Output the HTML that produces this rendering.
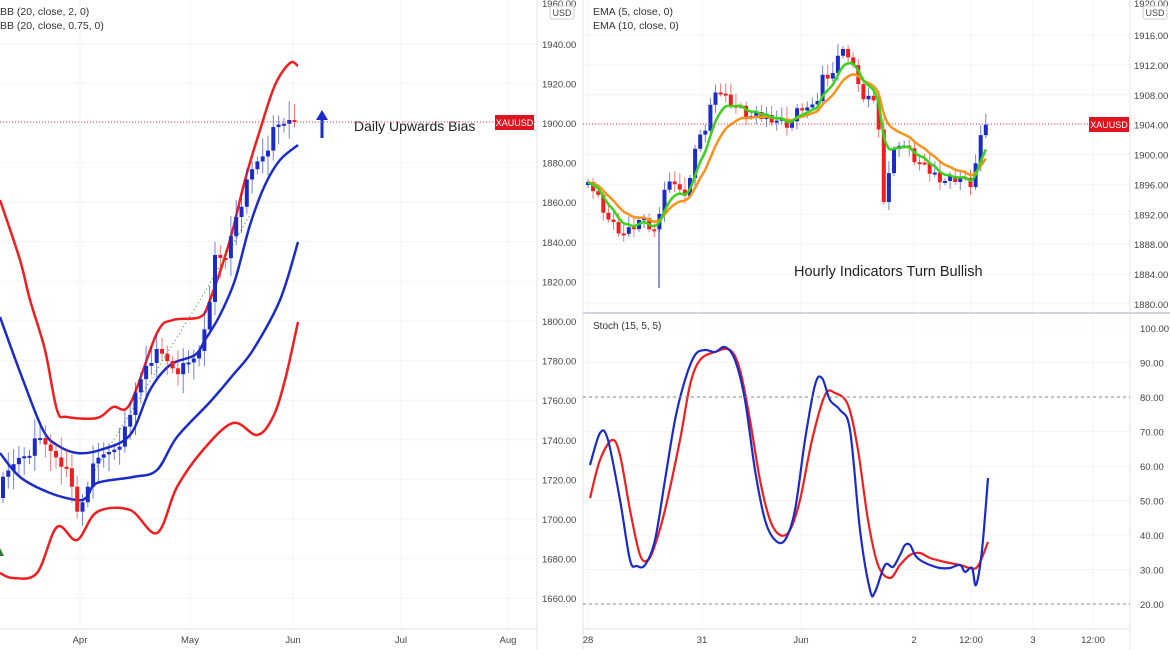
<!DOCTYPE html>
<html><head><meta charset="utf-8"><style>
html,body{margin:0;padding:0;background:#fff;}
svg{display:block;font-family:"Liberation Sans",sans-serif;}
</style></head><body>
<svg id="s" width="1170" height="650" viewBox="0 0 1170 650" xmlns="http://www.w3.org/2000/svg">
<rect width="1170" height="650" fill="#fff"/>
<g id="grid" stroke="#f3f4f8" stroke-width="1"></g>
<line x1="537" y1="0" x2="537" y2="650" stroke="#e0e3eb"/>
<line x1="583" y1="0" x2="583" y2="650" stroke="#e0e3eb"/>
<line x1="1130" y1="0" x2="1130" y2="650" stroke="#e0e3eb"/>
<line x1="0" y1="629" x2="537" y2="629" stroke="#e0e3eb"/>
<line x1="583" y1="629" x2="1130" y2="629" stroke="#e0e3eb"/>
<line x1="583" y1="313" x2="1170" y2="313" stroke="#d1d4dc" stroke-width="2"/>
<g id="lt" font-size="9.5" fill="#444"></g>
<g id="rt" font-size="9.5" fill="#444"></g>
<g id="draw"></g>
<text x="0" y="15" font-size="10.5" fill="#333">BB (20, close, 2, 0)</text>
<text x="0" y="29" font-size="10.5" fill="#333">BB (20, close, 0.75, 0)</text>
<text x="593" y="15" font-size="10.5" fill="#333">EMA (5, close, 0)</text>
<text x="593" y="29" font-size="10.5" fill="#333">EMA (10, close, 0)</text>
<text x="593" y="329" font-size="10" fill="#333">Stoch (15, 5, 5)</text>
<text x="354" y="131" font-size="14" fill="#222">Daily Upwards Bias</text>
<text x="794" y="276" font-size="14.5" fill="#222">Hourly Indicators Turn Bullish</text>
<line x1="322" y1="138" x2="322" y2="118" stroke="#1a2bc8" stroke-width="3"/>
<polygon points="316,120 328,120 322,110" fill="#1a2bc8"/>
<line x1="0" y1="122" x2="537" y2="122" stroke="#f23645" stroke-dasharray="1,2"/>
<line x1="583" y1="124" x2="1130" y2="124" stroke="#f23645" stroke-dasharray="1,2"/>
<line x1="583" y1="397" x2="1130" y2="397" stroke="#888" stroke-dasharray="3,3"/>
<line x1="583" y1="604" x2="1130" y2="604" stroke="#888" stroke-dasharray="3,3"/>
<rect x="495" y="115" width="39" height="15" fill="#e0141e"/>
<text x="514.5" y="126" font-size="9" fill="#fff" text-anchor="middle">XAUUSD</text>
<rect x="1089" y="117" width="40" height="15" fill="#e0141e"/>
<text x="1109" y="128" font-size="9" fill="#fff" text-anchor="middle">XAUUSD</text>
<rect x="550" y="6" width="24" height="13" fill="#fff" stroke="#ccc" rx="2"/>
<text x="562" y="16" font-size="9" fill="#444" text-anchor="middle">USD</text>
<rect x="1143" y="6" width="24" height="13" fill="#fff" stroke="#ccc" rx="2"/>
<text x="1155" y="16" font-size="9" fill="#444" text-anchor="middle">USD</text>
<polygon points="0,548 4,556 0,556" fill="#2e7d32"/>
</svg>
<script>
const NS="http://www.w3.org/2000/svg";
function el(p,t,a,txt){const e=document.createElementNS(NS,t);for(const k in a)e.setAttribute(k,a[k]);if(txt!==undefined)e.textContent=txt;document.getElementById(p).appendChild(e);return e;}
function interp(pts,x){for(let i=0;i<pts.length-1;i++){const a=pts[i],b=pts[i+1];if(x>=a[0]&&x<=b[0])return a[1]+(b[1]-a[1])*(x-a[0])/(b[0]-a[0]);}return x<pts[0][0]?pts[0][1]:pts[pts.length-1][1];}
function smooth(pts){if(pts.length<3)return 'M'+pts.join('L');let d='M'+pts[0][0]+','+pts[0][1];for(let i=0;i<pts.length-1;i++){const p0=pts[i-1]||pts[i],p1=pts[i],p2=pts[i+1],p3=pts[i+2]||p2;const c1=[p1[0]+(p2[0]-p0[0])/6,p1[1]+(p2[1]-p0[1])/6],c2=[p2[0]-(p3[0]-p1[0])/6,p2[1]-(p3[1]-p1[1])/6];d+=`C${c1[0].toFixed(1)},${c1[1].toFixed(1)} ${c2[0].toFixed(1)},${c2[1].toFixed(1)} ${p2[0]},${p2[1]}`;}return d;}
function poly(pts,c,w,dash,sm){if(sm){el('draw','path',{d:smooth(pts),fill:'none',stroke:c,'stroke-width':w});return;}el('draw','polyline',{points:pts.map(p=>p.join(',')).join(' '),fill:'none',stroke:c,'stroke-width':w,'stroke-linejoin':'round','stroke-dasharray':dash||'none'});}
for(let v=1940;v>=1660;v-=20){const y=123+(1900-v)*1.98;el('grid','line',{x1:0,y1:y,x2:537,y2:y});el('lt','text',{x:542,y:y+4},v.toFixed(2));}
el('lt','text',{x:542,y:7},'1960.00');
[[80,'Apr'],[190,'May'],[293,'Jun'],[401,'Jul'],[508,'Aug']].forEach(a=>{el('grid','line',{x1:a[0],y1:0,x2:a[0],y2:629});el('lt','text',{x:a[0],y:643,'text-anchor':'middle'},a[1]);});
for(let v=1916;v>=1880;v-=4){const y=35+(1916-v)*7.47;el('grid','line',{x1:583,y1:y,x2:1130,y2:y});el('rt','text',{x:1134,y:y+4},v.toFixed(2));}
el('rt','text',{x:1134,y:7},'1920.00');
for(let v=100;v>=20;v-=10){const y=328+(100-v)*3.45;el('grid','line',{x1:583,y1:y,x2:1130,y2:y});el('rt','text',{x:1140,y:y+4},v.toFixed(2));}
[[588,'28'],[702,'31'],[801,'Jun'],[914,'2'],[971,'12:00'],[1033,'3'],[1093,'12:00']].forEach(a=>{el('grid','line',{x1:a[0],y1:0,x2:a[0],y2:629});el('rt','text',{x:a[0],y:643,'text-anchor':'middle'},a[1]);});
poly([[0,200],[20,260],[30,300],[45,350],[57,410],[67,417],[97,418],[113,407],[130,404],[157,333],[173,320],[200,317],[210,300],[230,240],[245,180],[260,130],[275,85],[290,63],[298,66]],'#f01e1e',2.5,null,1);
poly([[0,317],[23,380],[43,430],[57,445],[77,453],[100,450],[130,435],[150,390],[170,365],[195,355],[205,340],[220,315],[235,280],[250,225],[265,185],[280,160],[298,145]],'#1a2bc8',2.5,null,1);
poly([[0,453],[20,477],[50,493],[77,500],[87,497],[97,483],[133,477],[157,470],[177,437],[210,402],[233,375],[253,350],[280,300],[298,242]],'#1a2bc8',2.5,null,1);
poly([[0,573],[13,578],[37,573],[57,527],[77,540],[97,512],[130,510],[157,533],[177,487],[203,450],[233,423],[257,435],[273,417],[285,380],[298,322]],'#f01e1e',2.5,null,1);
poly([[95,470],[200,300],[250,215]],'#4a9a3a',1.2,'1,3');
const LC=[[0,490],[20,455],[40,442],[60,455],[72,490],[78,515],[88,480],[100,460],[115,445],[128,430],[135,395],[148,355],[160,355],[172,365],[185,372],[198,355],[206,318],[215,262],[225,262],[235,215],[245,190],[255,165],[265,150],[275,132],[285,125],[292,115],[297,120]];
let prev=interp(LC,0)+8;
for(let x=3,i=0;x<=297;x+=5.3,i++){let c=interp(LC,x)+((i*37)%17-8);let o=prev;const up=c<o;const col=up?'#1a2bc8':'#f01e1e';const hi=Math.min(o,c)-5-((i*13)%16);const lo=Math.max(o,c)+5+((i*7)%16);
el('draw','line',{x1:x,y1:hi,x2:x,y2:lo,stroke:col,'stroke-width':1,opacity:0.6});el('draw','rect',{x:x-2,y:Math.min(o,c),width:4,height:Math.max(2,Math.abs(c-o)),fill:col});prev=c;}
const RC=[[583,185],[595,190],[610,222],[625,235],[640,220],[655,232],[663,190],[675,180],[685,200],[695,150],[705,130],[715,87],[725,97],[735,105],[750,117],[770,117],[790,125],[800,107],[815,110],[823,75],[833,72],[843,45],[850,62],[858,80],[866,110],[872,88],[880,140],[885,215],[890,160],[900,140],[915,160],[930,172],[945,180],[960,177],[970,186],[978,155],[984,122],[990,124]];
let closes=[];prev=185;
for(let x=588,i=0;x<=990;x+=5.1,i++){let c=interp(RC,x)+((i*29)%11-5);let o=prev;const up=c<o;const col=up?'#1a2bc8':'#f01e1e';const hi=Math.min(o,c)-3-((i*11)%10);const lo=Math.max(o,c)+3+((i*5)%10);
el('draw','line',{x1:x,y1:hi,x2:x,y2:lo,stroke:col,'stroke-width':1,opacity:0.6});el('draw','rect',{x:x-2,y:Math.min(o,c),width:4,height:Math.max(2,Math.abs(c-o)),fill:col});closes.push([x,c]);prev=c;}
el('draw','line',{x1:659,y1:230,x2:659,y2:288,stroke:'#1a2bc8','stroke-width':1});
function ema(n){const k=2/(n+1);let e=closes[0][1];return closes.map(p=>{e=p[1]*k+e*(1-k);return [p[0],+e.toFixed(1)];});}
poly(ema(10),'#f7931a',2.5,null,1);poly(ema(5),'#39d31a',2.5,null,1);
poly([[590,498],[600,460],[612,440],[620,455],[630,510],[640,555],[648,560],[655,545],[665,510],[680,440],[690,385],[700,360],[715,352],[730,350],[740,370],[750,420],[760,480],[770,520],[780,535],[790,530],[800,500],[812,440],[825,395],[835,393],[848,405],[858,450],[868,520],[878,565],[890,578],[900,565],[910,555],[920,553],[930,558],[945,562],[960,565],[970,568],[978,566],[988,542]],'#f01e1e',2.2,null,1);
poly([[590,465],[600,433],[608,440],[620,500],[630,560],[637,566],[645,565],[655,540],[665,480],[675,420],[685,380],[695,355],[705,350],[715,352],[725,347],[735,360],[745,400],[755,470],[765,520],[775,540],[785,540],[795,510],[805,440],[815,385],[822,378],[830,400],[840,410],[850,430],[860,530],[870,590],[875,592],[885,565],[893,567],[900,555],[905,545],[910,545],[915,555],[920,560],[930,565],[940,568],[950,568],[960,565],[965,572],[972,568],[976,585],[982,550],[988,478]],'#1a2bc8',2.2,null,1);
</script>
</body></html>
